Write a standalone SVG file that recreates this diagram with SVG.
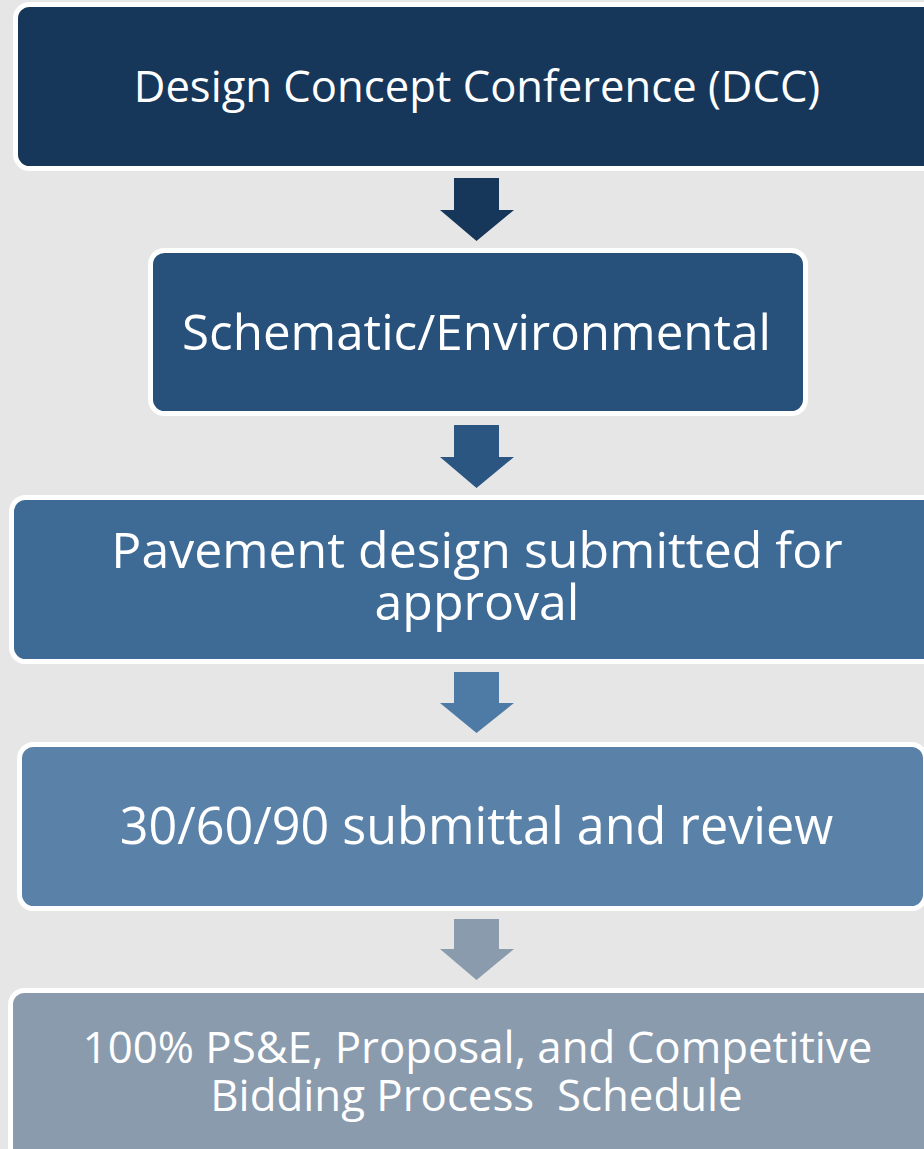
<svg xmlns="http://www.w3.org/2000/svg" width="924" height="1149" viewBox="0 0 924 1149">
<style>
.box{stroke:#FFFFFF;stroke-width:5}
.t{fill:#FFFFFF;font-family:"Open Sans","Liberation Sans",sans-serif;text-anchor:middle}
</style>
<rect width="924" height="1149" fill="#E6E6E6"/>
<g id="n1"><rect class="box" x="15.5" y="4.5" width="925" height="164" rx="14" fill="#16375A"/><text class="t" x="477" y="102" font-size="43.6">Design Concept Conference (DCC)</text></g>
<g id="n2"><rect class="box" x="150.5" y="250.5" width="655" height="163" rx="14" fill="#27507A"/><text class="t" x="476.5" y="350" font-size="49.3">Schematic/Environmental</text></g>
<g id="n3"><rect class="box" x="11.5" y="497.5" width="930" height="164" rx="14" fill="#3E6A96"/><text class="t" x="477" y="568" font-size="50">Pavement design submitted for</text><text class="t" x="477" y="620" font-size="50">approval</text></g>
<g id="n4"><rect class="box" x="19.5" y="744.5" width="906" height="164" rx="14" fill="#5A81A8"/><text class="t" x="476.5" y="843.5" font-size="50.3">30/60/90 submittal and review</text></g>
<g id="n5"><rect class="box" x="10.5" y="990.5" width="930" height="180" rx="14" fill="#8A9BAD"/><text class="t" x="477.5" y="1063" font-size="43.8">100% PS&amp;E, Proposal, and Competitive</text><text class="t" x="476.5" y="1111" font-size="43.8" xml:space="preserve">Bidding Process  Schedule</text></g>
<g id="connectors">
<polygon points="454,178 499,178 499,210 514,210 476.5,241 440,210 454,210" fill="#16375A"/>
<polygon points="454,425 499,425 499,457 514,457 476.5,488 440,457 454,457" fill="#2B5682"/>
<polygon points="454,672 499,672 499,703 514,703 476.5,733 440,703 454,703" fill="#4E7BA6"/>
<polygon points="454,919 499,919 499,949 514,949 476.5,980 440,949 454,949" fill="#8A9BAD"/>
</g>
</svg>
